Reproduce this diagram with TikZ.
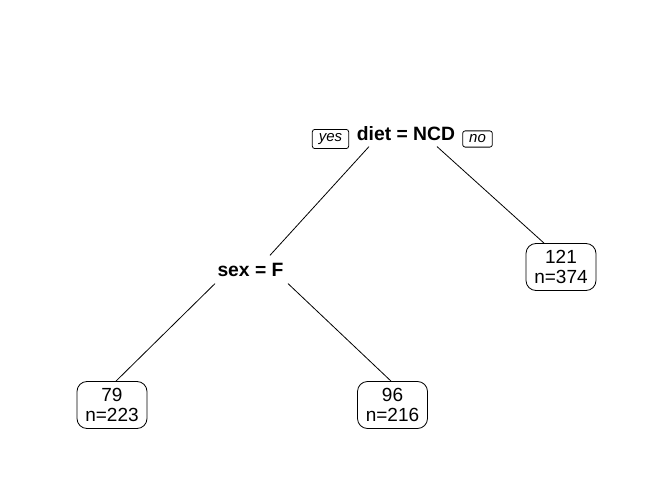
\documentclass[tikz,border=0pt]{standalone}
\usepackage{fontspec}
\setmainfont{Liberation Sans}
\usetikzlibrary{positioning}

\begin{document}
\begin{tikzpicture}[x=1pt,y=1pt,line width=0.8pt,
                    split node/.style={inner sep=0pt,anchor=base,font=\fontsize{19.3}{21}\selectfont\bfseries},
                    leaf node/.style={draw,rounded corners=10pt,align=center,inner xsep=6pt,inner ysep=3pt,
                                      minimum width=70pt,minimum height=47pt,font=\fontsize{19}{20}\selectfont},
                    tag node/.style={draw,rounded corners=2.5pt,inner xsep=6.5pt,inner ysep=4pt,
                                     font=\fontsize{15}{17}\selectfont\itshape}]
  \useasboundingbox (0,0) rectangle (672,480);
  \node[split node] (diet) at (406,339) {diet = NCD};
  \node[tag node] (yes) at (330.5,341) {yes};
  \node[tag node] (no) at (477.5,341) {no};
  \node[split node] (sex) at (250.5,204) {sex = F};
  \node[leaf node] (121) at (561,213) {121\\n=374};
  \node[leaf node] (79) at (112,75) {79\\n=223};
  \node[leaf node] (96) at (392.5,75) {96\\n=216};

  \draw ([shift={(-37pt,-5pt)}]diet.south) -- ([shift={(19.5pt,7pt)}]sex.north);
  \draw ([shift={(31pt,-5pt)}]diet.south) -- ([xshift=-17pt]121.north);
  \draw ([shift={(-35.5pt,-7pt)}]sex.south) -- ([xshift=4pt]79.north);
  \draw ([shift={(37.5pt,-7pt)}]sex.south) -- ([xshift=-1.5pt]96.north);
\end{tikzpicture}
\end{document}
